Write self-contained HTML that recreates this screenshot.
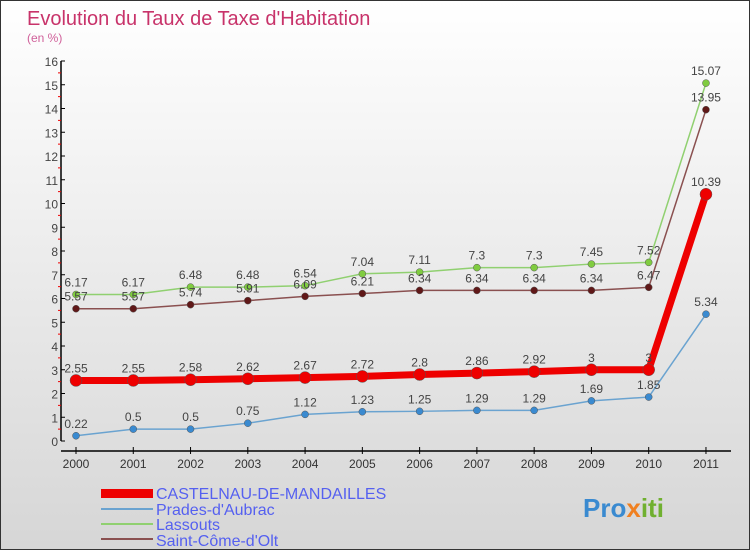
<!DOCTYPE html>
<html><head><meta charset="utf-8"><style>
body{margin:0}
#c{width:750px;height:550px;position:relative;background:linear-gradient(#fff,#d6d6d6);border:1px solid #333;box-sizing:border-box;font-family:"Liberation Sans",sans-serif;overflow:hidden}
</style></head><body>
<div id="c">
<svg id="s" width="750" height="550" style="position:absolute;left:0;top:0">
<text x="26" y="24" font-size="20" fill="#c8336a">Evolution du Taux de Taxe d'Habitation</text>
<text x="26" y="41" font-size="12" fill="#d0609a">(en %)</text>
<g id="axes"></g><g id="series"></g>
<g>
<rect x="100" y="488" width="52" height="9" fill="#e00"/>
<text x="155" y="498" font-size="16" fill="#5560f0">CASTELNAU-DE-MANDAILLES</text>
<line x1="100" y1="508" x2="152" y2="508" stroke="#6aa3d0" stroke-width="2"/>
<text x="155" y="514" font-size="16" fill="#5560f0">Prades-d'Aubrac</text>
<line x1="100" y1="523" x2="152" y2="523" stroke="#90d070" stroke-width="2"/>
<text x="155" y="529" font-size="16" fill="#5560f0">Lassouts</text>
<line x1="100" y1="538" x2="152" y2="538" stroke="#8a5050" stroke-width="2"/>
<text x="155" y="545" font-size="16" fill="#5560f0">Saint-Côme-d'Olt</text>
</g>
<text x="582" y="516" font-size="26" font-weight="bold" fill="#3a8ad0">Pro<tspan fill="#f08020">x</tspan><tspan fill="#70b030">iti</tspan></text>
</svg>
</div>
<script>
const years=[2000,2001,2002,2003,2004,2005,2006,2007,2008,2009,2010,2011];
const castelnau=[2.55,2.55,2.58,2.62,2.67,2.72,2.8,2.86,2.92,3,3,10.39];
const prades=[0.22,0.5,0.5,0.75,1.12,1.23,1.25,1.29,1.29,1.69,1.85,5.34];
const lassouts=[6.17,6.17,6.48,6.48,6.54,7.04,7.11,7.3,7.3,7.45,7.52,15.07];
const saintCome=[5.57,5.57,5.74,5.91,6.09,6.21,6.34,6.34,6.34,6.34,6.47,13.95];
const yTicks=[0,1,2,3,4,5,6,7,8,9,10,11,12,13,14,15,16];
const NS="http://www.w3.org/2000/svg";
const X=i=>75+i*57.27, Y=v=>440-v*23.75;
function mk(t,a,p){const e=document.createElementNS(NS,t);for(const k in a)e.setAttribute(k,a[k]);p.appendChild(e);return e;}
const ax=document.getElementById('axes'),sr=document.getElementById('series');
let l=mk('line',{x1:60,y1:Y(16),x2:60,y2:Y(0),stroke:'#000','stroke-width':1.5},ax);


l=mk('line',{x1:60,y1:450,x2:730,y2:450,stroke:'#000','stroke-width':1.5},ax);


yTicks.forEach(v=>{
 mk('line',{x1:60,y1:Y(v),x2:64,y2:Y(v),stroke:'#000'},ax);
 if(v<16)mk('line',{x1:57,y1:Y(v+0.5),x2:60,y2:Y(v+0.5),stroke:'#e00'},ax);
 const t=mk('text',{x:57,y:Y(v)+5,'text-anchor':'end','font-size':12,fill:'#444'},ax);t.textContent=v;
 
 
});
years.forEach((y,i)=>{
 mk('line',{x1:X(i),y1:446,x2:X(i),y2:453,stroke:'#000'},ax);
 const t=mk('text',{x:X(i),y:467,'text-anchor':'middle','font-size':12,fill:'#333'},ax);t.textContent=y;
 
 
});
function series(d,name,col,w,r,dot,lab){
 const g=mk('g',{},sr);
 
 
 mk('polyline',{points:d.map((v,i)=>X(i)+','+Y(v)).join(' '),fill:'none',stroke:col,'stroke-width':w},g);
 d.forEach((v,i)=>{
  const c=mk('circle',{cx:X(i),cy:Y(v),r:r,fill:dot,stroke:'#555','stroke-width':0.5},g);
  
  
  const t=mk('text',{x:X(i),y:Y(v)-8,'text-anchor':'middle','font-size':12,fill:'#444'},g);t.textContent=v;
  
  
 });
}
series(lassouts,'lassouts','#90d070',1.5,3.5,'#80cc40');
series(saintCome,'saint-come','#8a5050',1.5,3.5,'#601818');
series(prades,'prades','#6aa3d0',1.5,3.5,'#3a8ad0');
series(castelnau,'castelnau','#e00',7,6,'#e00');
</script>
</body></html>
